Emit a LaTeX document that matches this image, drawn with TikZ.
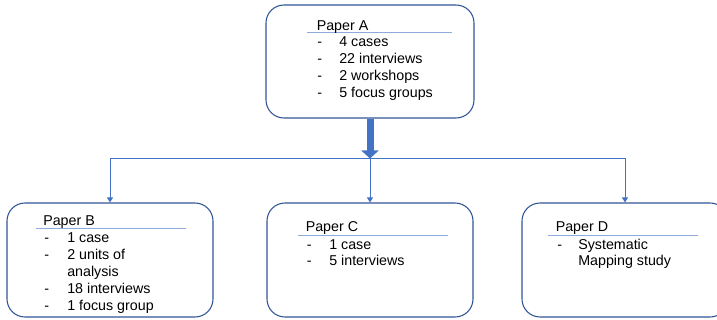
\documentclass[tikz,border=0pt]{standalone}
\usepackage{fontspec}
\setmainfont{Liberation Sans}
\usepackage{xcolor}
\usepackage{tikz}
\usetikzlibrary{calc,positioning,arrows.meta}

\definecolor{boxline}{RGB}{47,85,151}
\definecolor{arrowblue}{RGB}{68,114,196}
\definecolor{ruleblue}{RGB}{143,170,220}

\begin{document}
\begin{tikzpicture}[x=0.75pt,y=0.75pt,yscale=-1,xscale=1,
  paperbox/.style={draw=boxline,line width=0.8pt,rounded corners=13.5pt,minimum width=154.5pt,minimum height=85.5pt,inner sep=0pt},
  titlerule/.style={draw=ruleblue,line width=0.75pt},
  txt/.style={anchor=base west,inner sep=0pt,font=\fontsize{10.7}{12}\selectfont},
  fatarrow/.style={draw=arrowblue,line width=5.25pt,-{Triangle[width=12.75pt,length=6pt]}},
  thinarrow/.style={draw=arrowblue,line width=0.75pt,-{Triangle[width=4.5pt,length=3.75pt]}}]
  \useasboundingbox (0,0) rectangle (717,320);
  \clip (0,0) rectangle (717,320);

  %Rounded Rect
  \node [paperbox,minimum width=156pt,minimum height=84.75pt] (paperA) at (370,61.5) {};
  %Rounded Rect
  \node [paperbox] (paperB) at (110,260) {};
  %Rounded Rect
  \node [paperbox] (paperC) at (370,260) {};
  %Rounded Rect
  \node [paperbox] (paperD) at (625,260) {};

  %Straight Lines
  \draw [titlerule] (307,33) -- (452,33) ;
  \draw [titlerule] (36,228.5) -- (186,228.5) ;
  \draw [titlerule] (298,235.5) -- (448,235.5) ;
  \draw [titlerule] (548,235.5) -- (698,235.5) ;

  %Arrows
  \coordinate (split) at (370,158.5);
  \draw [fatarrow] (paperA.south) -- (split) ;
  \draw [thinarrow] (split) -| (paperB.north) ;
  \draw [thinarrow] (split) -- (paperC.north) ;
  \draw [thinarrow] (split) -| (paperD.north) ;

  % Text Node
  \node [txt] (titleA) at (316.5,31) {Paper A};
  \node [txt] (dashA1) at (317,47) {-};
  \node [txt] (itemA1) at (339,47) {4 cases};
  \node [txt] (dashA2) at (317,64) {-};
  \node [txt] (itemA2) at (339,64) {22 interviews};
  \node [txt] (dashA3) at (317,81) {-};
  \node [txt] (itemA3) at (339,81) {2 workshops};
  \node [txt] (dashA4) at (317,98) {-};
  \node [txt] (itemA4) at (339,98) {5 focus groups};
  % Text Node
  \node [txt] (titleB) at (43,225.5) {Paper B};
  \node [txt] (dashB1) at (44,242.5) {-};
  \node [txt] (itemB1) at (67,242.5) {1 case};
  \node [txt] (dashB2) at (44,259.5) {-};
  \node [txt] (itemB2) at (67,259.5) {2 units of};
  \node [txt] (itemB3) at (67,276.5) {analysis};
  \node [txt] (dashB4) at (44,293.5) {-};
  \node [txt] (itemB4) at (67,293.5) {18 interviews};
  \node [txt] (dashB5) at (44,310.5) {-};
  \node [txt] (itemB5) at (67,310.5) {1 focus group};
  % Text Node
  \node [txt] (titleC) at (305.5,231.5) {Paper C};
  \node [txt] (dashC1) at (306.5,249) {-};
  \node [txt] (itemC1) at (329,249) {1 case};
  \node [txt] (dashC2) at (306.5,266) {-};
  \node [txt] (itemC2) at (329,266) {5 interviews};
  % Text Node
  \node [txt] (titleD) at (555.5,231.5) {Paper D};
  \node [txt] (dashD1) at (557,249) {-};
  \node [txt] (itemD1) at (578,249) {Systematic};
  \node [txt] (itemD2) at (578,266) {Mapping study};
\end{tikzpicture}
\end{document}
